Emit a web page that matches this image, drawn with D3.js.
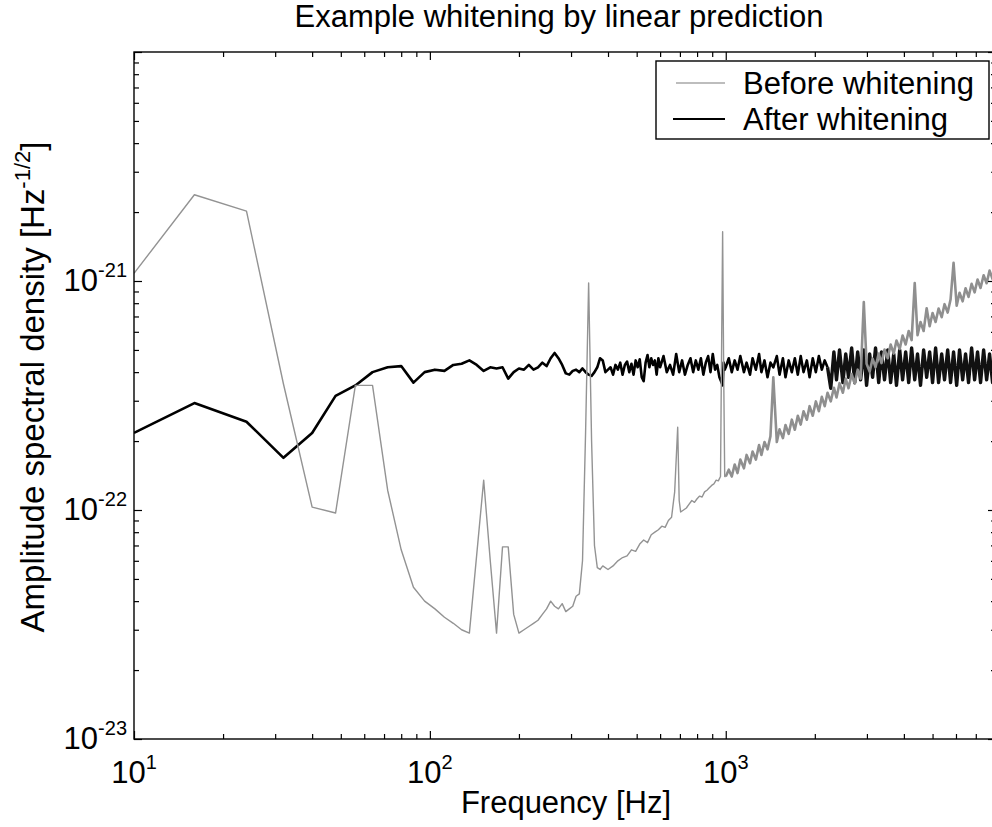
<!DOCTYPE html>
<html>
<head>
<meta charset="utf-8">
<script src="https://cdn.jsdelivr.net/npm/d3@7"></script>
<style>
  body { margin: 0; background: #fff; }
  svg { display: block; font-family: "Liberation Sans", Arial, Helvetica, sans-serif; }
</style>
</head>
<body>
<div id="chart"></div>
<script>
// values, amplitudes in units of 1e-22 /sqrt(Hz)
var beforeLoFreq = [10, 16, 24, 32, 40, 48, 56, 64, 72, 80,
  88, 96, 104, 112, 120, 128, 136, 152, 160, 168,
  176, 184, 192, 200, 208, 216, 224, 232, 240, 248,
  256, 264, 272, 280, 288, 296, 304, 312, 320, 328,
  336, 344, 352, 360, 368, 376, 384, 400, 416, 432,
  448, 464, 480, 496, 512, 528, 544, 560, 576, 592,
  608, 624, 640, 656, 672, 688, 696, 704, 720, 736,
  752, 768, 784, 800, 816, 832, 848, 864, 880, 896,
  912, 928, 944, 960, 968, 976, 984, 992];
var beforeLo = [10.8, 23.8, 20.2, 3.55, 1.03, 0.97, 3.5, 3.5, 1.22, 0.67,
  0.46, 0.40, 0.37, 0.34, 0.32, 0.30, 0.29, 1.35, 0.6, 0.29,
  0.69, 0.69, 0.35, 0.29, 0.30, 0.31, 0.32, 0.33, 0.35, 0.37,
  0.40, 0.38, 0.37, 0.39, 0.36, 0.37, 0.38, 0.42, 0.43, 0.6,
  2.2, 9.8, 2.0, 0.7, 0.56, 0.55, 0.57, 0.55, 0.57, 0.6,
  0.62, 0.63, 0.67, 0.66, 0.71, 0.74, 0.72, 0.78, 0.8, 0.82,
  0.85, 0.84, 0.9, 0.93, 1.2, 2.3, 1.1, 0.98, 1.0, 1.02,
  1.06, 1.1, 1.08, 1.12, 1.15, 1.14, 1.2, 1.22, 1.25, 1.28,
  1.3, 1.35, 1.34, 1.4, 5.0, 16.4, 4.0, 1.4];

var afterLoFreq = [10, 16, 24, 32, 40, 48, 56, 64, 72, 80,
  88, 96, 104, 112, 120, 128, 136, 144, 152, 160,
  168, 176, 184, 192, 200, 208, 216, 224, 232, 240,
  248, 256, 264, 272, 280, 288, 296, 304, 312, 320,
  328, 336, 344, 352, 360, 368, 376, 384, 392, 400,
  408, 416, 424, 432, 440, 448, 456, 464, 472, 480,
  488, 496, 504, 512, 520, 528, 536, 544, 552, 560,
  568, 576, 584, 592, 600, 616, 632, 648, 664, 680,
  696, 712, 728, 744, 760, 776, 792, 808, 824, 840,
  856, 872, 888, 904, 920, 936, 952, 968, 976, 984,
  992];
var afterLo = [2.17, 2.93, 2.43, 1.69, 2.17, 3.15, 3.5, 4.0, 4.2, 4.25,
  3.6, 4.0, 4.1, 4.05, 4.3, 4.35, 4.5, 4.3, 4.05, 4.2,
  4.15, 4.2, 3.75, 4.0, 4.15, 4.1, 4.3, 4.1, 4.2, 4.4,
  4.25, 4.6, 4.85, 4.6, 4.3, 3.95, 3.9, 4.05, 4.1, 4.0,
  4.15, 4.0, 3.9, 3.85, 4.0, 4.2, 4.6, 4.5, 4.0, 4.1,
  4.2, 3.9, 4.3, 4.1, 4.4, 3.9, 4.3, 4.45, 4.0, 4.35,
  3.9, 4.5, 4.2, 4.55, 3.8, 3.65, 4.4, 4.75, 4.2, 4.6,
  4.3, 4.5, 3.9, 4.6, 4.2, 4.7, 4.0, 4.3, 3.9, 4.8,
  4.0, 4.5, 3.9, 4.3, 4.6, 4.0, 4.5, 4.1, 4.6, 3.9,
  4.4, 4.7, 4.0, 4.8, 4.1, 4.3, 3.8, 3.6, 3.5, 4.4,
  4.1];

// high frequency part (noisy bands)
var hiFreq = [1000, 1024, 1048, 1072, 1096, 1120, 1152, 1176, 1208, 1232,
  1264, 1296, 1320, 1352, 1384, 1416, 1448, 1488, 1520, 1560,
  1592, 1632, 1672, 1712, 1752, 1792, 1832, 1880, 1920, 1968,
  2016, 2064, 2112, 2160, 2208, 2264, 2320, 2368, 2424, 2488,
  2544, 2600, 2664, 2728, 2792, 2856, 2928, 2992, 3064, 3136,
  3208, 3288, 3360, 3440, 3528, 3608, 3696, 3776, 3872, 3960,
  4056, 4152, 4248, 4352, 4448, 4552, 4664, 4776, 4888, 5000,
  5120, 5240, 5368, 5488, 5624, 5752, 5888, 6032, 6168, 6320,
  6464, 6616, 6776, 6936, 7096, 7264, 7440, 7616, 7792, 7976,
  8160];
var beforeHi = [1.40, 1.50, 1.40, 1.58, 1.45, 1.66, 1.52, 1.74, 1.60, 1.80,
  1.66, 1.92, 1.74, 1.98, 1.84, 2.10, 3.8, 1.98, 2.25, 2.06,
  2.35, 2.15, 2.48, 2.24, 2.58, 2.36, 2.70, 2.48, 2.84, 2.58,
  2.98, 2.70, 3.12, 2.84, 3.25, 2.98, 3.42, 3.10, 3.58, 3.25,
  3.75, 3.40, 3.92, 3.56, 4.10, 3.74, 8.1, 4.35, 4.02, 4.58,
  4.20, 4.82, 4.38, 5.02, 4.60, 5.28, 4.82, 5.50, 5.05, 5.78,
  5.28, 6.05, 5.52, 9.8, 5.80, 6.62, 6.05, 7.6, 6.35, 7.25,
  6.62, 7.58, 6.95, 7.92, 7.28, 8.30, 12.0, 7.80, 8.88, 8.15,
  9.30, 8.52, 9.72, 8.92, 10.15, 9.32, 10.6, 9.78, 11.1, 10.2,
  11.5];
var afterHi = [4.2, 4.6, 4.0, 4.5, 4.1, 4.7, 4.0, 4.4, 3.9, 4.6,
  4.1, 4.8, 4.0, 4.5, 3.8, 4.4, 4.2, 4.7, 3.9, 4.6,
  3.8, 4.5, 4.0, 4.6, 3.9, 4.7, 4.0, 4.5, 3.8, 4.6,
  4.0, 4.7, 4.1, 4.5, 4.2, 3.4, 4.9, 3.7, 5.0, 3.6,
  4.8, 3.8, 5.1, 3.6, 4.9, 3.7, 5.0, 3.5, 4.8, 3.8,
  5.1, 3.6, 4.9, 3.7, 5.0, 3.6, 4.8, 3.5, 5.0, 3.7,
  4.9, 3.6, 5.1, 3.7, 4.8, 3.5, 5.0, 3.8, 4.9, 3.6,
  5.1, 3.6, 4.8, 3.7, 5.0, 3.6, 4.9, 3.5, 5.0, 3.7,
  4.8, 3.6, 5.1, 3.7, 4.9, 3.6, 5.0, 3.7, 4.8, 3.6,
  4.9];

var seriesNames = ["Before whitening", "After whitening"];
var xTickExp = [1, 2, 3];
var yTickExp = [-23, -22, -21];

var svgWidth = 992;
var svgHeight = 827;

var margin = { top: 52, left: 134, bottom: 88, right: -4 };
var width = svgWidth - margin.left - margin.right;
var height = svgHeight - margin.top - margin.bottom;

function makeSeries(freqs, vals) {
  return freqs.map(function(f, i) { return { f: f, v: vals[i] * 1e-22 }; });
}
var beforeLoData = makeSeries(beforeLoFreq, beforeLo);
var beforeHiData = makeSeries(hiFreq, beforeHi);
var afterLoData = makeSeries(afterLoFreq, afterLo);
var afterHiData = makeSeries(hiFreq, afterHi);

var svg = d3.select("#chart")
  .append("svg")
  .attr("width", svgWidth)
  .attr("height", svgHeight);

var chartGroup = svg.append("g")
  .attr("transform", `translate(${margin.left}, ${margin.top})`);

var x = d3.scaleLog().domain([10, 8192]).range([0, width]);
var y = d3.scaleLog().domain([1e-23, 1e-20]).range([height, 0]);

chartGroup.append("clipPath").attr("id", "plotclip")
  .append("rect").attr("width", width).attr("height", height);

// lines
var line = d3.line().x(d => x(d.f)).y(d => y(d.v));

function drawPath(data, color, w) {
  chartGroup.append("path")
    .datum(data)
    .attr("clip-path", "url(#plotclip)")
    .attr("fill", "none")
    .attr("stroke", color)
    .attr("stroke-width", w)
    .attr("stroke-linejoin", "round")
    .attr("d", line);
}
// after whitening: thin-ish below ~2.2 kHz, dense band above
var afterSplit = hiFreq.indexOf(2208);
drawPath(afterLoData.concat(afterHiData.slice(0, afterSplit + 1)), "#000", 2.6);
drawPath(afterHiData.slice(afterSplit), "#111", 3.4);
// before whitening, drawn over the black one
drawPath(beforeLoData.concat(beforeHiData.slice(0, 1)), "#939393", 1.4);
drawPath(beforeHiData, "#8f8f8f", 2.6);

// ticks (inward), major ones a bit longer
function isMajor(v) {
  var l = Math.log10(v);
  return Math.abs(l - Math.round(l)) < 1e-6;
}
var xMinor = x.ticks().filter(v => !isMajor(v));
var xMajor = x.ticks().filter(isMajor);
var yMinor = y.ticks().filter(v => !isMajor(v));
var yMajor = y.ticks().filter(isMajor);

function addAxis(axisFn, scale, vals, size, transform) {
  var g = chartGroup.append("g")
    .attr("transform", transform)
    .call(axisFn(scale).tickValues(vals).tickSize(-size).tickSizeOuter(0).tickFormat(""));
  g.select(".domain").remove();
  g.selectAll("line").attr("stroke", "#000").attr("stroke-width", 1.2);
}
addAxis(d3.axisBottom, x, xMinor, 5, `translate(0, ${height})`);
addAxis(d3.axisBottom, x, xMajor, 8, `translate(0, ${height})`);
addAxis(d3.axisTop, x, xMinor, 5, "translate(0, 0)");
addAxis(d3.axisTop, x, xMajor, 8, "translate(0, 0)");
addAxis(d3.axisLeft, y, yMinor, 5, "translate(0, 0)");
addAxis(d3.axisLeft, y, yMajor, 8, "translate(0, 0)");
addAxis(d3.axisRight, y, yMinor, 5, `translate(${width}, 0)`);
addAxis(d3.axisRight, y, yMajor, 8, `translate(${width}, 0)`);

// frame
chartGroup.append("rect")
  .attr("width", width).attr("height", height)
  .attr("fill", "none").attr("stroke", "#000").attr("stroke-width", 1.4);

// tick labels with superscripts
xTickExp.forEach(function(e) {
  var t = chartGroup.append("text")
    .attr("x", x(Math.pow(10, e)))
    .attr("y", height + 44)
    .attr("text-anchor", "middle")
    .attr("font-size", 31);
  t.append("tspan").text("10");
  t.append("tspan").attr("dy", -14).attr("font-size", 20).text(e);
});

yTickExp.forEach(function(e) {
  var t = chartGroup.append("text")
    .attr("x", -7)
    .attr("y", y(Math.pow(10, e)) + 10)
    .attr("text-anchor", "end")
    .attr("font-size", 31);
  t.append("tspan").text("10");
  t.append("tspan").attr("dy", -14).attr("font-size", 20).text("-" + Math.abs(e));
});

// title and axis labels
svg.append("text")
  .attr("x", 559)
  .attr("y", 27)
  .attr("text-anchor", "middle")
  .attr("font-size", 31)
  .text("Example whitening by linear prediction");

svg.append("text")
  .attr("x", 566)
  .attr("y", 813)
  .attr("text-anchor", "middle")
  .attr("font-size", 31)
  .text("Frequency [Hz]");

var yLabel = svg.append("text")
  .attr("transform", "translate(44, 387) rotate(-90)")
  .attr("text-anchor", "middle")
  .attr("font-size", 33);
yLabel.append("tspan").text("Amplitude spectral density [Hz");
yLabel.append("tspan").attr("dy", -14).attr("font-size", 22).text("-1/2");
yLabel.append("tspan").attr("dy", 14).text("]");

// legend
var legend = svg.append("g");
legend.append("rect")
  .attr("x", 656).attr("y", 61)
  .attr("width", 333).attr("height", 78)
  .attr("fill", "#fff").attr("stroke", "#000").attr("stroke-width", 1.4);

var legendStyles = [
  { color: "#bdbdbd", width: 2.2, y: 83, x0: 676 },
  { color: "#000", width: 2.2, y: 119, x0: 673 }
];
seriesNames.forEach(function(name, i) {
  var s = legendStyles[i];
  legend.append("line")
    .attr("x1", s.x0).attr("x2", 725)
    .attr("y1", s.y).attr("y2", s.y)
    .attr("stroke", s.color).attr("stroke-width", s.width);
  legend.append("text")
    .attr("x", 743)
    .attr("y", s.y + 10.5)
    .attr("font-size", 31)
    .text(name);
});
</script>
</body>
</html>
